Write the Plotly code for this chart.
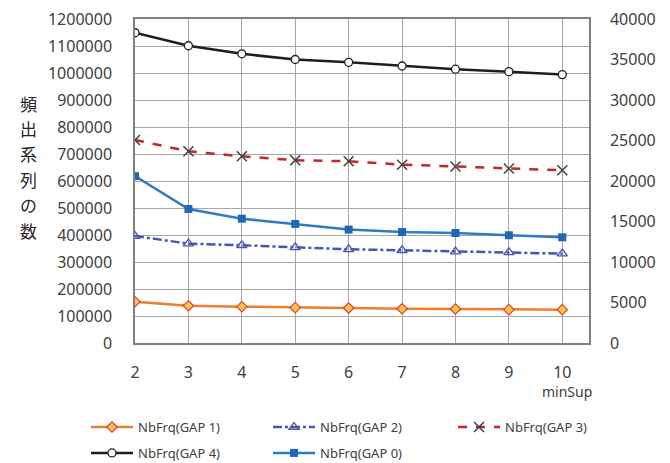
import plotly.graph_objects as go

min_sup = [2, 3, 4, 5, 6, 7, 8, 9, 10]
gap1 = [153000, 138000, 134500, 131000, 129500, 127000, 126000, 123500, 123500]
gap2 = [396000, 368000, 362000, 354500, 347000, 343500, 338500, 336000, 331000]
gap3 = [752000, 710000, 691500, 677000, 673000, 660500, 654000, 646000, 639500]
gap4 = [1149000, 1101000, 1071000, 1050000, 1039500, 1026000, 1014000, 1005000, 994000]
gap0 = [20600, 16550, 15350, 14700, 14000, 13700, 13580, 13300, 13050]  # secondary axis

left_ticks = list(range(0, 1200001, 100000))
right_ticks = list(range(0, 40001, 5000))
y_title_chars = ["頻", "出", "系", "列", "の", "数"]

FONT = "Noto Sans, Open Sans, sans-serif"
TICK_COLOR = "#404040"

fig = go.Figure()
fig.add_trace(go.Scatter(
    x=min_sup, y=gap1, name="NbFrq(GAP 1)", mode="lines+markers",
    legend="legend", legendgroup="g1",
    line=dict(color="#ed7d31", width=2.5),
    marker=dict(symbol="diamond", size=8, color="#ffc34d",
                line=dict(color="#e0402a", width=1.2))))
fig.add_trace(go.Scatter(
    x=min_sup, y=gap2, name="NbFrq(GAP 2)", mode="lines+markers",
    legend="legend2", legendgroup="g2",
    line=dict(color="#4656b4", width=2.5, dash="dashdot"),
    marker=dict(symbol="triangle-up-open", size=9, color="#4656b4",
                line=dict(color="#4656b4", width=1.3))))
fig.add_trace(go.Scatter(
    x=min_sup, y=gap3, name="NbFrq(GAP 3)", mode="lines+markers",
    legend="legend3", legendgroup="g3",
    line=dict(color="#c8242c", width=2.5, dash="dash"),
    marker=dict(symbol="x-thin", size=10, color="#404040",
                line=dict(color="#404040", width=1.5))))
fig.add_trace(go.Scatter(
    x=min_sup, y=gap4, name="NbFrq(GAP 4)", mode="lines+markers",
    legend="legend", legendgroup="g4",
    line=dict(color="#1e1e1e", width=2.5),
    marker=dict(symbol="circle", size=8, color="white",
                line=dict(color="#1e1e1e", width=1.3))))
fig.add_trace(go.Scatter(
    x=min_sup, y=gap0, name="NbFrq(GAP 0)", mode="lines+markers", yaxis="y2",
    legend="legend2", legendgroup="g0",
    line=dict(color="#2e7cc4", width=2.5),
    marker=dict(symbol="square", size=8, color="#2068b4")))


def legend_at(x_px):
    return dict(orientation="v", xref="container", yref="container",
                x=x_px / 670, y=0.11, xanchor="left", yanchor="top",
                itemwidth=42, tracegroupgap=6,
                font=dict(size=13, color=TICK_COLOR, family=FONT),
                bgcolor="rgba(0,0,0,0)")


annotations = []
for i, ch in enumerate(y_title_chars):
    annotations.append(dict(
        text=ch, xref="paper", yref="paper",
        x=(28 - 135) / (670 - 135 - 81), xanchor="center",
        y=(343 - (103 + i * 25.4)) / 324, yanchor="middle", showarrow=False,
        borderpad=0, valign="middle",
        font=dict(size=17, color="#262626", family="Noto Sans CJK JP")))
annotations.append(dict(
    text="minSup", xref="paper", yref="paper",
    x=(567 - 135) / (670 - 135 - 81), y=-0.15, xanchor="center",
    yanchor="middle", showarrow=False,
    font=dict(size=14, color=TICK_COLOR, family=FONT)))

fig.update_layout(
    width=670, height=463,
    margin=dict(l=135, r=81, t=19, b=120, autoexpand=False),
    paper_bgcolor="white", plot_bgcolor="white",
    font=dict(family=FONT, color=TICK_COLOR),
    showlegend=True,
    xaxis=dict(range=[2, 10.5], tickvals=min_sup, ticktext=[str(v) for v in min_sup],
               showgrid=True, gridcolor="#a6a6a6", gridwidth=1,
               showline=True, linecolor="#808080", linewidth=1.5, mirror=True,
               ticks="", ticklabelstandoff=14, zeroline=False,
               tickfont=dict(size=16, color=TICK_COLOR, family=FONT)),
    yaxis=dict(range=[0, 1200000], tickvals=left_ticks,
               ticktext=[str(v) for v in left_ticks],
               showgrid=True, gridcolor="#a6a6a6", gridwidth=1,
               showline=True, linecolor="#808080", linewidth=1.5,
               ticks="", ticklabelstandoff=18, zeroline=False,
               tickfont=dict(size=16, color=TICK_COLOR, family=FONT)),
    yaxis2=dict(range=[0, 40000], tickvals=right_ticks,
                ticktext=[str(v) for v in right_ticks],
                overlaying="y", side="right", showgrid=False,
                showline=True, linecolor="#808080", linewidth=1.5,
                ticks="", ticklabelstandoff=16, zeroline=False,
                tickfont=dict(size=16, color=TICK_COLOR, family=FONT)),
    legend=legend_at(86),
    legend2=legend_at(268),
    legend3=legend_at(453),
    annotations=annotations,
)

fig.write_html("out.html")
